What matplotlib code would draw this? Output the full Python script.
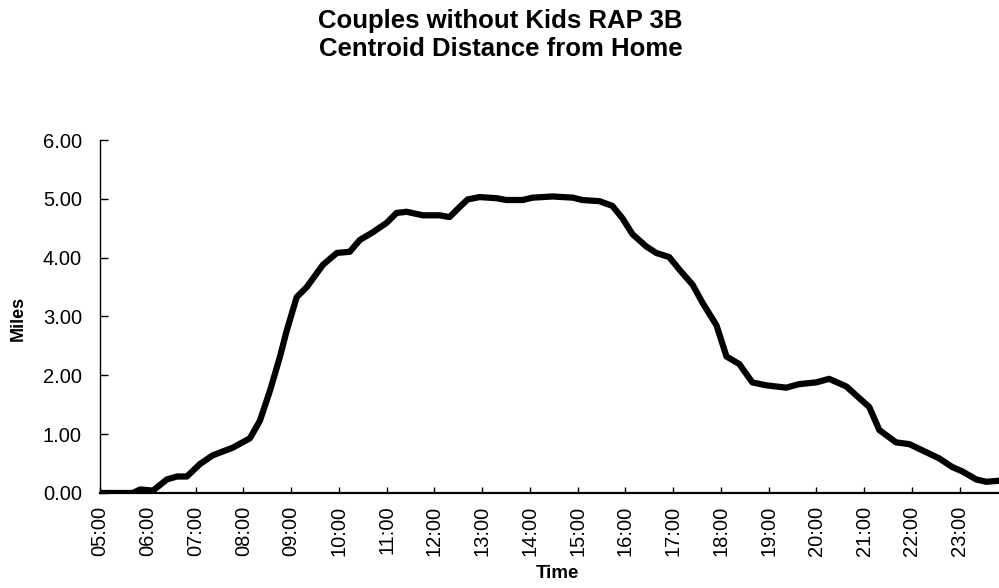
import matplotlib
matplotlib.use("Agg")
import matplotlib.pyplot as plt

plt.rcParams['font.family'] = ['Liberation Sans', 'DejaVu Sans']

# clock time in hours
hours = [5.00, 5.69, 5.84, 6.11, 6.40, 6.61, 6.82, 7.09, 7.36, 7.78,
         8.14, 8.35, 8.56, 8.77, 8.91, 9.12, 9.33, 9.67, 9.96, 10.23,
         10.44, 10.71, 11.00, 11.21, 11.42, 11.76, 12.11, 12.32, 12.53, 12.70,
         12.95, 13.31, 13.51, 13.85, 14.06, 14.48, 14.90, 15.10, 15.46, 15.73,
         15.94, 16.15, 16.44, 16.65, 16.92, 17.13, 17.41, 17.62, 17.91, 18.12,
         18.39, 18.66, 18.95, 19.37, 19.64, 20.00, 20.27, 20.63, 21.11, 21.32,
         21.67, 21.95, 22.57, 22.85, 23.05, 23.35, 23.56, 23.85]
# centroid distance from home (miles)
miles = [0.00, 0.00, 0.06, 0.04, 0.23, 0.28, 0.28, 0.49, 0.64, 0.77,
         0.93, 1.23, 1.74, 2.32, 2.76, 3.33, 3.50, 3.88, 4.08, 4.10,
         4.30, 4.43, 4.59, 4.76, 4.78, 4.72, 4.72, 4.69, 4.86, 4.99,
         5.03, 5.01, 4.98, 4.98, 5.02, 5.04, 5.02, 4.98, 4.96, 4.88,
         4.67, 4.40, 4.19, 4.08, 4.01, 3.80, 3.54, 3.23, 2.85, 2.32,
         2.19, 1.88, 1.83, 1.79, 1.85, 1.88, 1.94, 1.81, 1.46, 1.07,
         0.86, 0.83, 0.59, 0.44, 0.37, 0.23, 0.19, 0.21]

tick_hours = list(range(5, 24))
tick_labels = [f"{h:02d}:00" for h in tick_hours]
y_ticks = [0, 1, 2, 3, 4, 5, 6]

fig = plt.figure(figsize=(9.99, 5.88), dpi=100)
ax = fig.add_axes([0.1001, 0.1616, 0.9, 0.6003])

ax.plot(hours, miles, color='black', lw=4.5, solid_joinstyle='round',
        solid_capstyle='round')

ax.set_xlim(5, 5 + 900 / 47.8)
ax.set_ylim(0, 6)
ax.set_xticks(tick_hours)
ax.set_xticklabels(tick_labels, rotation=90, fontsize=14.5)
ax.set_yticks(y_ticks)
ax.set_yticklabels([f"{v:.2f}" for v in y_ticks], fontsize=14.5)

for s in ('top', 'right'):
    ax.spines[s].set_visible(False)
ax.spines['left'].set_linewidth(1.0)
ax.spines['bottom'].set_linewidth(1.6)
ax.tick_params(axis='y', direction='in', length=6, width=1, pad=13)
ax.tick_params(axis='x', direction='in', length=4, width=1, pad=9)

fig.text(0.501, 1 - 35 / 588, "Couples without Kids RAP 3B\nCentroid Distance from Home",
         ha='center', va='center', fontsize=18.5, fontweight='bold', linespacing=1.2)
fig.text(0.018, 1 - 318 / 588, "Miles", rotation=90, ha='center', va='center',
         fontsize=13, fontweight='bold')
fig.text(557 / 999, 1 - 574 / 588, "Time", ha='center', va='center',
         fontsize=13.5, fontweight='bold')

fig.savefig("out.png", dpi=100)
